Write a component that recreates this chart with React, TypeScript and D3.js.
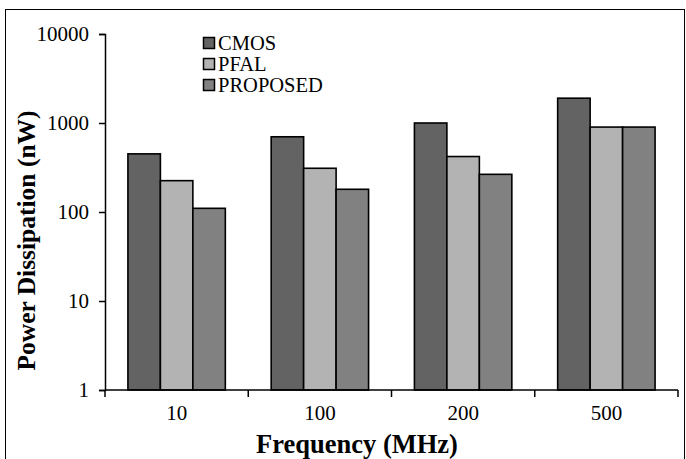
import { useEffect, useRef } from 'react'
import * as d3 from 'd3'

const frequencies = ['10', '100', '200', '500']
const seriesNames = ['CMOS', 'PFAL', 'PROPOSED']
const cmos = [450, 700, 1000, 1900]
const pfal = [225, 310, 420, 900]
const proposed = [110, 180, 265, 900]
const yTicks = [1, 10, 100, 1000, 10000]

const colors = ['#636363', '#b3b3b3', '#818181']

const App = () => {
  const svgRef = useRef<SVGSVGElement>(null)

  useEffect(() => {
    if (!svgRef.current) return
    const svg = d3.select(svgRef.current)
    svg.selectAll('*').remove()

    const width = 686
    const height = 459
    const plot = { left: 105, right: 678, top: 34, bottom: 390 }
    const font = 'Liberation Serif, Tinos, Times New Roman, Times, serif'

    // outer frame
    svg.append('rect')
      .attr('x', 5.5)
      .attr('y', 9.5)
      .attr('width', width - 7)
      .attr('height', height - 9)
      .attr('fill', 'white')
      .attr('stroke', '#000')
      .attr('stroke-width', 1)

    const x = d3.scaleBand<string>()
      .domain(frequencies)
      .range([plot.left, plot.right])
      .paddingInner(0.32)
      .paddingOuter(0.16)

    const xSub = d3.scaleBand<string>()
      .domain(seriesNames)
      .range([0, x.bandwidth()])
      .padding(0)

    const y = d3.scaleLog().domain([1, 10000]).range([plot.bottom, plot.top])

    const series = [cmos, pfal, proposed]

    // bars
    series.forEach((values, si) => {
      svg.append('g')
        .selectAll('rect')
        .data(values)
        .enter()
        .append('rect')
        .attr('x', (_d, i) => (x(frequencies[i]) ?? 0) + (xSub(seriesNames[si]) ?? 0))
        .attr('y', (d) => y(d))
        .attr('width', xSub.bandwidth())
        .attr('height', (d) => plot.bottom - y(d))
        .attr('fill', colors[si])
        .attr('stroke', '#000')
        .attr('stroke-width', 1.6)
    })

    // y axis
    const yAxis = svg.append('g')
      .attr('transform', `translate(${plot.left},0)`)
      .call(d3.axisLeft(y).tickValues(yTicks).tickFormat(d3.format('d')).tickSize(6).tickPadding(10))
    yAxis.attr('font-family', null).attr('font-size', null)
    yAxis.select('.domain').attr('stroke', '#000').attr('stroke-width', 1.5)
    yAxis.selectAll('line').attr('stroke-width', 1.5)
    yAxis.selectAll('text')
      .attr('font-size', 21)
      .attr('fill', '#000')

    // x axis line with ticks at category boundaries
    const step = x.step()
    const boundaries = d3.range(frequencies.length + 1).map((i) => plot.left + i * step)
    svg.append('line')
      .attr('x1', plot.left)
      .attr('x2', plot.right)
      .attr('y1', plot.bottom)
      .attr('y2', plot.bottom)
      .attr('stroke', '#000')
      .attr('stroke-width', 1.5)
    svg.append('g')
      .selectAll('line')
      .data(boundaries)
      .enter()
      .append('line')
      .attr('x1', (d) => d)
      .attr('x2', (d) => d)
      .attr('y1', plot.bottom)
      .attr('y2', plot.bottom + 7)
      .attr('stroke', '#000')
      .attr('stroke-width', 1.5)

    svg.append('g')
      .selectAll('text')
      .data(frequencies)
      .enter()
      .append('text')
      .attr('x', (d) => (x(d) ?? 0) + x.bandwidth() / 2)
      .attr('y', plot.bottom + 30)
      .attr('text-anchor', 'middle')
      .attr('font-size', 21)
      .text((d) => d)

    // axis titles
    svg.append('text')
      .attr('x', 357)
      .attr('y', 453)
      .attr('text-anchor', 'middle')
      .attr('font-size', 26.5)
      .attr('font-weight', 'bold')
      .text('Frequency (MHz)')

    svg.append('text')
      .attr('transform', 'translate(35,240.5) rotate(-90)')
      .attr('text-anchor', 'middle')
      .attr('font-size', 25.5)
      .attr('font-weight', 'bold')
      .text('Power Dissipation (nW)')

    // legend
    const legend = svg.append('g').attr('transform', 'translate(203,43)')
    seriesNames.forEach((name, i) => {
      const row = legend.append('g').attr('transform', `translate(0,${i * 21})`)
      row.append('rect')
        .attr('x', 0.5)
        .attr('y', -5.5)
        .attr('width', 11)
        .attr('height', 11)
        .attr('fill', colors[i])
        .attr('stroke', '#000')
        .attr('stroke-width', 1.5)
      row.append('text')
        .attr('x', 15)
        .attr('y', 7)
        .attr('font-size', 20.5)
        .text(name)
    })

    svg.attr('font-family', font)
  }, [])

  return (
    <svg
      ref={svgRef}
      width={686}
      height={459}
      style={{ position: 'absolute', left: 0, top: 0, background: 'white' }}
    />
  )
}

export default App
